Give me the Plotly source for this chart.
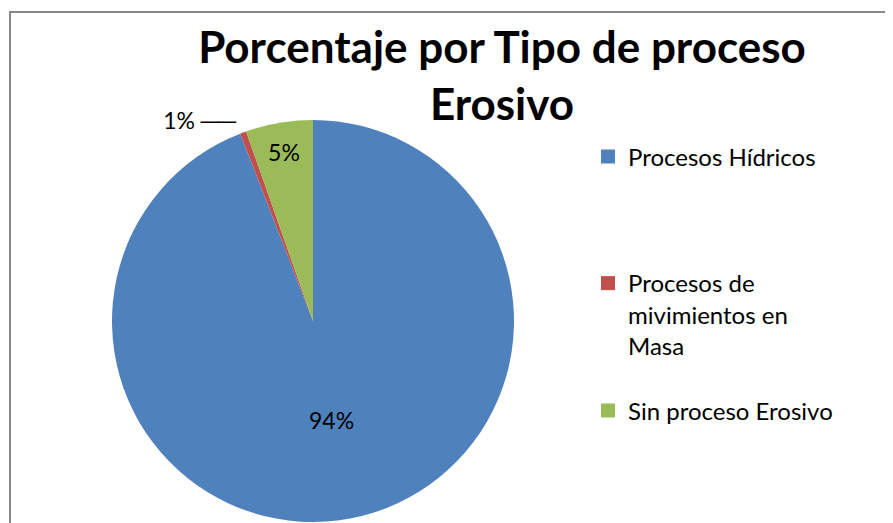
import plotly.graph_objects as go

labels = ["Procesos Hídricos", "Procesos de mivimientos en Masa", "Sin proceso Erosivo"]
legend_text = ["Procesos Hídricos", "Procesos de<br>mivimientos en<br>Masa", "Sin proceso Erosivo"]
values = [94.1, 0.5, 5.4]
colors = ["#4F81BD", "#C0504D", "#9BBB59"]
text_pos = ["inside", "outside", "inside"]
text_tpl = ["%{percent:.0%}", "%{percent:.0%} \u2500\u2500", "%{percent:.0%}"]

W, H = 893, 523
OFF = 8  # page body margin shifts the figure
FONT = "Lato"


def px_x(x):
    return (x - OFF) / W


def px_y(y):
    return 1 - (y - OFF) / H


fig = go.Figure()

fig.add_trace(go.Pie(
    labels=labels,
    values=values,
    sort=False,
    direction="clockwise",
    rotation=0,
    marker=dict(colors=colors, line=dict(width=0)),
    texttemplate=text_tpl,
    textposition=text_pos,
    insidetextorientation="horizontal",
    textfont=dict(family=FONT, size=23, color="black"),
    showlegend=False,
    domain=dict(x=[px_x(112), px_x(514)], y=[px_y(522), px_y(120)]),
    hoverinfo="label+percent",
))

# legend entries, one legend each so they can be spaced like the original
legend_y = [157, 261, 411]
legend_anchor = ["middle", "top", "middle"]
for i, name in enumerate(legend_text):
    lg = "legend" if i == 0 else f"legend{i + 1}"
    fig.add_trace(go.Scatter(
        x=[None], y=[None], mode="markers", name=name,
        marker=dict(symbol="square", size=14, color=colors[i]),
        legend=lg, showlegend=True, hoverinfo="skip",
    ))
    fig.update_layout({lg: dict(
        x=px_x(588), xanchor="left",
        y=px_y(legend_y[i]), yanchor=legend_anchor[i],
        valign="top", bgcolor="rgba(0,0,0,0)",
        font=dict(family=FONT, size=24, color="black"),
    )})

fig.update_layout(
    width=W, height=H,
    margin=dict(l=0, r=0, t=0, b=0),
    paper_bgcolor="white",
    plot_bgcolor="white",
    xaxis=dict(visible=False),
    yaxis=dict(visible=False),
    title=dict(
        text="<b>Porcentaje por Tipo de proceso<br>Erosivo</b>",
        x=px_x(502), xanchor="center",
        y=px_y(63), yanchor="top",
        font=dict(family=FONT, size=44, color="black"),
    ),
    shapes=[dict(
        type="rect", xref="paper", yref="paper",
        x0=px_x(10), x1=1.2, y0=-0.2, y1=px_y(12),
        line=dict(color="#888888", width=2),
        fillcolor="rgba(0,0,0,0)", layer="below",
    )],
)

fig.write_html("out.html")
